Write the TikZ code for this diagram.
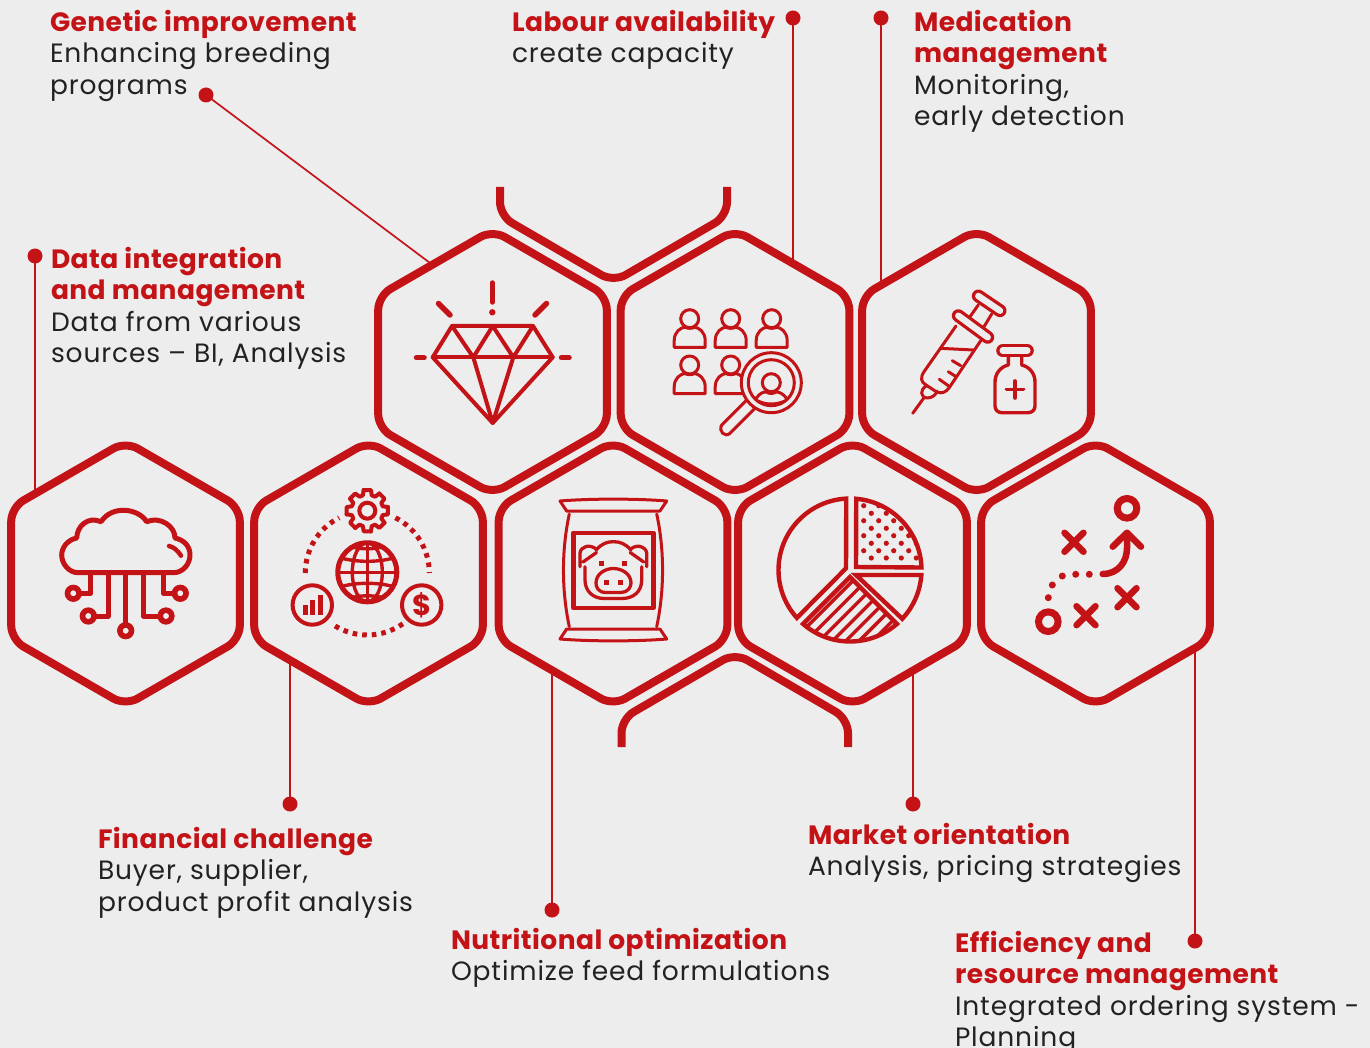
\documentclass[tikz,border=0pt]{standalone}
\usepackage{fontspec}
\setmainfont{Poppins}[LetterSpace=3.3,BoldFeatures={LetterSpace=1.7}]
\usetikzlibrary{shapes.geometric}
\definecolor{brandred}{HTML}{C41317}
\definecolor{pagebg}{HTML}{EDEDED}
\definecolor{bodyink}{HTML}{222222}
\newcommand\hd[1]{\strut\textcolor{brandred}{\textbf{#1}}}
\tikzset{
  hexcell/.style={regular polygon,regular polygon sides=6,shape border rotate=30,minimum size=264pt,inner sep=0pt,outer sep=0pt,draw=brandred,line width=8pt,rounded corners=14pt},
  partial/.style={draw=brandred,line width=8pt,rounded corners=14pt,line cap=butt},
  conn/.style={draw=brandred,line width=1.7pt},
  dotnode/.style={circle,fill=brandred,inner sep=0pt,outer sep=0pt,minimum size=15pt},
  lbl/.style={anchor=north west,inner sep=0pt,outer sep=0pt,align=left,text=bodyink,font=\fontsize{26.5}{31.5}\selectfont},
  ic/.style={draw=brandred,line width=3.6pt,line join=round,line cap=round},
  icb/.style={draw=brandred,line width=5pt,line join=round,line cap=round},
  icf/.style={fill=brandred,draw=none},
}
\newcommand\person[2]{%
  \draw[ic,line width=3pt] (#1,#2) circle[radius=9];
  \draw[ic,line width=3pt,fill=pagebg] (#1-15.5,#2+28.7) -- (#1-15.5,#2+22) .. controls (#1-15.5,#2+13) and (#1-9,#2+9) .. (#1-5,#2+8.5) .. controls (#1-2,#2+10) and (#1+2,#2+10) .. (#1+5,#2+8.5) .. controls (#1+9,#2+9) and (#1+15.5,#2+13) .. (#1+15.5,#2+22) -- (#1+15.5,#2+28.7) -- cycle;}
\newcommand\stadium[4]{%
  \draw[draw=brandred,line width=13pt,line cap=round] (#1,#2) -- (#3,#4);
  \draw[draw=pagebg,line width=6.4pt,line cap=round] (#1,#2) -- (#3,#4);}
\begin{document}
\begin{tikzpicture}[x=1pt,y=-1pt]
\useasboundingbox (0,0) rectangle (1370,1048);
\fill[pagebg] (0,0) rectangle (1370,1048);
\clip (0,0) rectangle (1370,1048);

% connector end points on the hexagon outlines
\coordinate (cgen) at (430,263);
\coordinate (clab) at (793,262);
\coordinate (cmed) at (881,283);
\coordinate (cdat) at (35,492);
\coordinate (cfin) at (290,662);
\coordinate (cnut) at (552,673);
\coordinate (cmar) at (913,673);
\coordinate (ceff) at (1195,651);

% label dots and connectors
\node[dotnode] (dgen) at (206,95) {};
\node[dotnode] (dlab) at (793,18) {};
\node[dotnode] (dmed) at (881,18) {};
\node[dotnode] (ddat) at (35,256) {};
\node[dotnode] (dfin) at (290,804) {};
\node[dotnode] (dnut) at (552,910) {};
\node[dotnode] (dmar) at (913,804) {};
\node[dotnode] (deff) at (1195,941) {};
\draw[conn] (dgen.center) -- (cgen);
\draw[conn] (dlab.center) -- (clab);
\draw[conn] (dmed.center) -- (cmed);
\draw[conn] (ddat.center) -- (cdat);
\draw[conn] (dfin.center) -- (cfin);
\draw[conn] (dnut.center) -- (cnut);
\draw[conn] (dmar.center) -- (cmar);
\draw[conn] (deff.center) -- (ceff);

% hexagons
\node[hexcell] (h1) at (492.5,362) {};
\node[hexcell] (h2) at (735,362) {};
\node[hexcell] (h3) at (976.5,362) {};
\node[hexcell] (h4) at (125.5,573.5) {};
\node[hexcell] (h5) at (368.5,573.5) {};
\node[hexcell] (h6) at (613,573.5) {};
\node[hexcell] (h7) at (852.5,573.5) {};
\node[hexcell] (h8) at (1095.5,573.5) {};
\draw[partial] (500,187) -- (500,216) -- (613.5,282) -- (727,216) -- (727,187);
\draw[partial] (621.5,747) -- (621.5,719) -- (735,653) -- (848,719) -- (848,747);

% texts
\node[lbl] (tgen) at (50,9) {\hd{Genetic improvement}\\Enhancing breeding\\programs};
\node[lbl] (tlab) at (512,9) {\hd{Labour availability}\\create capacity};
\node[lbl] (tmed) at (914,9) {\hd{Medication}\\\hd{management}\\Monitoring,\\early detection};
\node[lbl] (tdat) at (51,246) {\hd{Data integration}\\\hd{and management}\\Data from various\\sources – BI, Analysis};
\node[lbl] (tfin) at (98,826) {\hd{Financial challenge}\\Buyer, supplier,\\product profit analysis};
\node[lbl] (tnut) at (451,927) {\hd{Nutritional optimization}\\Optimize feed formulations};
\node[lbl] (tmar) at (808,822) {\hd{Market orientation}\\Analysis, pricing strategies};
\node[lbl] (teff) at (955,930) {\hd{Efficiency and}\\\hd{resource management}\\Integrated ordering system -\\Planning};

% diamond icon
\draw[ic,line width=4pt] (452,326) -- (533,326) -- (552.7,357.3) -- (492.7,423) -- (432.7,357.3) -- cycle;
\draw[ic,line width=4pt] (432.7,357.3) -- (552.7,357.3);
\draw[ic,line width=4pt] (452,326) -- (473.3,357.3) -- (492.7,326) -- (513.3,357.3) -- (533,326);
\draw[ic,line width=4pt] (473.3,357.3) -- (492.7,423) -- (513.3,357.3);
\draw[ic,line width=5.5pt] (492.3,283) -- (492.3,302);
\fill[brandred] (492.3,312.3) circle[radius=3.2];
\draw[ic,line width=5.5pt] (438.5,303.5) -- (450,315);
\draw[ic,line width=5.5pt] (546.5,303.5) -- (535,315);
\draw[ic,line width=5.5pt] (416.5,357.7) -- (424,357.7);
\draw[ic,line width=5.5pt] (561.5,357.7) -- (569,357.7);

% people icon
\person{689.7}{318.7}
\person{730.7}{318.7}
\person{771.7}{318.7}
\person{689.7}{365}
\person{730.7}{365}
\draw[ic,line width=3pt,fill=pagebg] (746.7,400) -- (721.7,425) .. controls (718,431) and (725,438) .. (730,433.3) -- (755,408.3) -- cycle;
\draw[ic,line width=3pt,fill=pagebg] (771.3,382.7) circle[radius=30];
\draw[ic,line width=3pt] (771.3,382.7) circle[radius=23];
\draw[ic,line width=3pt] (771.3,382.7) circle[radius=9];
\draw[ic,line width=3pt] (756.3,398) .. controls (760,393) and (764,391.5) .. (766.5,392) .. controls (769,394) and (773,394) .. (776,392) .. controls (780,392) and (783,394) .. (786.3,398);
\draw[ic,line width=3pt] (758,401) .. controls (766,405) and (776,405) .. (785,401);

% syringe and bottle icon
\stadium{978.3}{296}{1000}{310.7}
\draw[ic,line width=3pt] (978.3,305) -- (970,316.7);
\draw[ic,line width=3pt] (991.7,314) -- (984,326.7);
\draw[ic,line width=3pt] (956,326) -- (924,371.7) .. controls (920,378) and (921,382) .. (926,385) -- (936.7,392) .. controls (942,394) and (946,392) .. (949,388) -- (980.7,340.7);
\stadium{958.3}{315.7}{987.7}{337.3}
\draw[ic,line width=3pt] (940,348.3) -- (973.3,350);
\draw[ic,line width=3pt] (952.3,360.7) -- (960.7,365.7);
\draw[ic,line width=3pt] (948.3,371.7) -- (955,376);
\draw[ic,line width=3pt] (939.3,379.3) -- (948.3,385.7);
\draw[ic,line width=3pt] (926,386) .. controls (920,390) and (920,397) .. (927,398) .. controls (932,398) and (936,395) .. (937,391);
\draw[ic,line width=3pt] (924.3,397.3) -- (912.7,413.3);
\draw[ic,line width=3.4pt,fill=pagebg] (1008.3,355) -- (1008.3,365) .. controls (1000,367) and (995,374) .. (995,382) -- (995,406) .. controls (995,410) and (998,412.7) .. (1002,412.7) -- (1028,412.7) .. controls (1032,412.7) and (1035,410) .. (1035,406) -- (1035,382) .. controls (1035,374) and (1030,367) .. (1021.7,365) -- (1021.7,355);
\stadium{1002.7}{350.7}{1027.3}{350.7}
\draw[ic,line width=3.6pt] (1006.5,389.3) -- (1023.5,389.3);
\draw[ic,line width=3.6pt] (1015,381) -- (1015,398);

% cloud icon
\draw[ic,line width=5pt] (78.3,572.7) -- (173.3,572.7) .. controls (183,572.7) and (190,564) .. (190,555) .. controls (190,546) and (184,540) .. (175,538) .. controls (175,526) and (160,516) .. (146.7,521.7) .. controls (138,508) and (112,505) .. (101,521.7) .. controls (88,516) and (77,526) .. (76.7,538) .. controls (67,540) and (61.7,548) .. (61.7,555) .. controls (61.7,564) and (69,572.7) .. (78.3,572.7) -- cycle;
\draw[ic,line width=4.5pt] (169,546) .. controls (174,547) and (178,551) .. (181,555.7);
\draw[ic,line width=5pt] (90.7,572.7) -- (90.7,593.3) -- (79,593.3);
\draw[ic,line width=5pt] (108.3,572.7) -- (108.3,616) -- (94,616);
\draw[ic,line width=5pt] (125.7,572.7) -- (125.7,625);
\draw[ic,line width=5pt] (143.3,572.7) -- (143.3,616) -- (160,616);
\draw[ic,line width=5pt] (163.3,572.7) -- (163.3,593.3) -- (175,593.3);
\foreach \cx/\cy in {73.3/593.3,88.3/616,125.7/630.7,166/616,180.3/593.3}
  \draw[draw=brandred,line width=5.6pt] (\cx,\cy) circle[radius=5.8];

% finance icon
\begin{scope}[shift={(367.3,510.7)}]
\foreach \a in {270,315,0,45,90,135,180,225}
  \draw[ic,line width=4pt] (\a-10:21) -- (\a+10:21) -- (\a+16:16) -- (\a+29:16) -- (\a+35:21);
\draw[ic,line width=4pt] (0,0) circle[radius=8];
\end{scope}
\begin{scope}[shift={(367.3,573)}]
\draw[draw=brandred,line width=5pt,dash pattern=on 4.6pt off 5pt] (180:62) arc[start angle=180,end angle=243,radius=62];
\draw[draw=brandred,line width=5pt,dash pattern=on 4.6pt off 5pt] (297:62) arc[start angle=297,end angle=360,radius=62];
\draw[draw=brandred,line width=5pt,dash pattern=on 4.6pt off 5pt] (55:62) arc[start angle=55,end angle=124,radius=62];
\end{scope}
\begin{scope}[shift={(367.3,572.3)}]
\draw[ic,line width=5pt] (0,0) circle[radius=29.5];
\draw[ic,line width=3.4pt] (0,0) ellipse[x radius=15,y radius=29.5];
\draw[ic,line width=3.4pt] (0,-29.5) -- (0,29.5);
\draw[ic,line width=3.4pt] (-29,0) -- (29,0);
\draw[ic,line width=3.4pt] (-25,-14) .. controls (-10,-10) and (10,-10) .. (25,-14);
\draw[ic,line width=3.4pt] (-25,14) .. controls (-10,10) and (10,10) .. (25,14);
\draw[ic,line width=3.4pt] (-14,-25) .. controls (-5,-23) and (5,-23) .. (14,-25);
\draw[ic,line width=3.4pt] (-14,25) .. controls (-5,23) and (5,23) .. (14,25);
\end{scope}
\draw[ic,line width=4pt] (312.3,605) circle[radius=19.7];
\draw[ic,line width=4pt] (421.7,605) circle[radius=19.7];
\fill[brandred] (303,605) rectangle (308.3,615);
\fill[brandred] (310,600) rectangle (315.3,615);
\fill[brandred] (318,595) rectangle (323.3,615);
\node[inner sep=0pt,text=brandred,font=\fontsize{29}{29}\bfseries\selectfont] (dollar) at (421.7,605) {\$};

% feed bag icon
\draw[ic,line width=3pt] (560,501) .. controls (590,498.5) and (637,498.5) .. (666.7,501) -- (660,511) -- (566.7,511) -- cycle;
\draw[ic,line width=3pt] (560,639) .. controls (590,641.5) and (637,641.5) .. (666.7,639) -- (660,629) -- (566.7,629) -- cycle;
\draw[ic,line width=3pt] (569.3,514) .. controls (561.5,550) and (561.5,590) .. (569.3,626.7);
\draw[ic,line width=3pt] (656.7,514) .. controls (664.5,550) and (664.5,590) .. (656.7,626.7);
\draw[ic,line width=4.4pt] (573.3,532.7) rectangle (653.3,608);
\draw[ic,line width=3.3pt] (585,566.7) -- (585,580) .. controls (585,592) and (594,598.5) .. (604,598.5) -- (622,598.5) .. controls (633,598.5) and (641.7,592) .. (641.7,580) -- (641.7,566.7);
\draw[ic,line width=3.3pt] (596,550) .. controls (602,543.5) and (607,541.7) .. (613.3,541.7) .. controls (620,541.7) and (625,543.5) .. (631,550);
\draw[ic,line width=3.3pt] (580,566.7) -- (580,553) .. controls (581,546) and (590,544) .. (596,549) (596.5,552.5) -- (583,562);
\draw[ic,line width=3.3pt] (646.7,566.7) -- (646.7,553) .. controls (645.7,546) and (636.7,544) .. (630.7,549) (630.2,552.5) -- (643.7,562);
\draw[ic,line width=3.3pt] (606,592.5) .. controls (598,592.5) and (596,587) .. (596,583) .. controls (596,574) and (605,568.5) .. (613.3,568.5) .. controls (622,568.5) and (631,574) .. (631,583) .. controls (631,587) and (628,592.5) .. (621,592.5) -- cycle;
\fill[brandred] (599,560.7) rectangle (604.2,565.9);
\fill[brandred] (621.7,560.7) rectangle (626.9,565.9);
\fill[brandred] (604,579.7) rectangle (609.2,584.9);
\fill[brandred] (618,579.7) rectangle (623.2,584.9);

% pie chart icon
\begin{scope}[shift={(850,570)}]
\draw[ic,line width=4.4pt,line cap=butt,line join=miter] (267:71.5) arc[start angle=267,end angle=138,radius=71.5] -- (-4,-1.7) -- cycle;
\draw[ic,line width=4.4pt,line cap=butt,line join=miter] (275:71.5) arc[start angle=275,end angle=358,radius=71.5] -- (6,-3) -- cycle;
\draw[ic,line width=4.4pt,line cap=butt,line join=miter] (4:71.5) arc[start angle=4,end angle=43,radius=71.5] -- (6,5) -- cycle;
\begin{scope}
\clip (49:71.5) arc[start angle=49,end angle=131,radius=71.5] -- (0,7) -- cycle;
\foreach \d in {-93,-79.7,...,60}
  \draw[draw=brandred,line width=3.4pt] (\d-80,160) -- (\d+80,0);
\end{scope}
\draw[ic,line width=4.4pt,line cap=butt,line join=miter] (49:71.5) arc[start angle=49,end angle=131,radius=71.5] -- (0,7) -- cycle;
\end{scope}
\begin{scope}
\clip (850,570) circle[radius=70];
\foreach \py in {505.7,520.7,535.7,550.7}
  \foreach \px in {863.7,878.7,893.7,908.7}
    \fill[brandred] (\px,\py) circle[radius=2.6];
\foreach \py in {513.3,528.3,543.3,558}
  \foreach \px in {871.3,886.3,901.3,916.3}
    \fill[brandred] (\px,\py) circle[radius=2.6];
\end{scope}

% tactics icon
\draw[draw=brandred,line width=7pt] (1127,508.3) circle[radius=9.8];
\draw[draw=brandred,line width=7pt] (1048.3,621.7) circle[radius=9.8];
\draw[ic,line width=6.5pt] (1064.5,532.8) -- (1083.5,551.8) (1083.5,532.8) -- (1064.5,551.8);
\draw[ic,line width=6.5pt] (1117.5,588.2) -- (1136.5,607.2) (1136.5,588.2) -- (1117.5,607.2);
\draw[ic,line width=6.5pt] (1076.5,606.2) -- (1095.5,625.2) (1095.5,606.2) -- (1076.5,625.2);
\draw[ic,line width=6.5pt] (1102.7,574) .. controls (1118,574) and (1127,562) .. (1127,548) -- (1127,534);
\draw[ic,line width=6.5pt] (1112.7,546.7) -- (1127,532.7) -- (1141,546.7);
\foreach \cx/\cy in {1089.3/574.3,1075.7/574.3,1062.3/576,1052.3/585,1048.3/597.7}
  \fill[brandred] (\cx,\cy) circle[radius=3.5];
\end{tikzpicture}
\end{document}
